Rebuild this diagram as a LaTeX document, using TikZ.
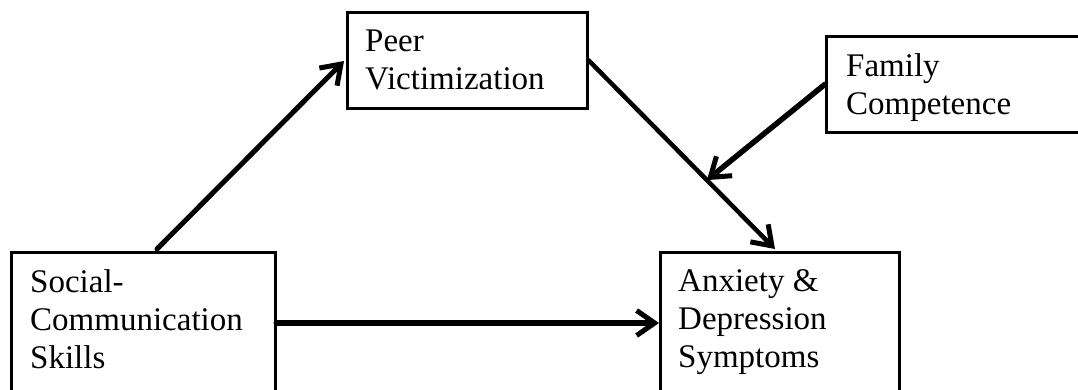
\documentclass[tikz,border=0pt]{standalone}
\usepackage{fontspec}
\setmainfont{Liberation Serif}
\usetikzlibrary{arrows.meta,calc}
\begin{document}
\begin{tikzpicture}[x=1pt,y=-1pt,
  box/.style={draw=black,line width=2.5pt,rectangle,inner sep=0pt,anchor=north west},
  txt/.style={inner sep=0pt,anchor=base west,align=left,font=\fontsize{33}{38}\selectfont},
  arr/.style={line width=5pt,line cap=round,-{Straight Barb[length=18pt,width=25pt,line width=5pt]}}]
\useasboundingbox (0,0) rectangle (1078,389);
\fill[white] (0,0) rectangle (1078,389);
\node[box,minimum width=264pt,minimum height=160pt] (soc) at (10,251) {};
\node[box,minimum width=240pt,minimum height=96pt] (peer) at (346,11) {};
\node[box,minimum width=260pt,minimum height=96pt] (fam) at (825,35) {};
\node[box,minimum width=239pt,minimum height=160pt] (anx) at (659,251) {};
\node[txt] (soct) at ($(soc.north west)+(20,117)$) {Social-\\Communication\\Skills};
\node[txt] (peert) at ($(peer.north west)+(19,78)$) {Peer\\Victimization};
\node[txt] (famt) at ($(fam.north west)+(21,79)$) {Family\\Competence};
\node[txt] (anxt) at ($(anx.north west)+(19,116)$) {Anxiety \&\\Depression\\Symptoms};
\coordinate (s1) at ($(soc.north west)+(147,-2)$);
\coordinate (p1) at ($(peer.north west)+(-2,50)$);
\coordinate (a1) at ($(anx.north west)+(116,-2)$);
\coordinate (m1) at ($(peer.east)!0.635!(a1)$);
\draw[arr] (s1) -- (p1);
\draw[arr,line width=4.5pt] (peer.east) -- (a1);
\draw[arr,line width=5.5pt] (fam.west) -- (m1);
\draw[arr,line width=6pt] (soc.east |- 0,323) -- (anx.west |- 0,323);
\end{tikzpicture}
\end{document}
